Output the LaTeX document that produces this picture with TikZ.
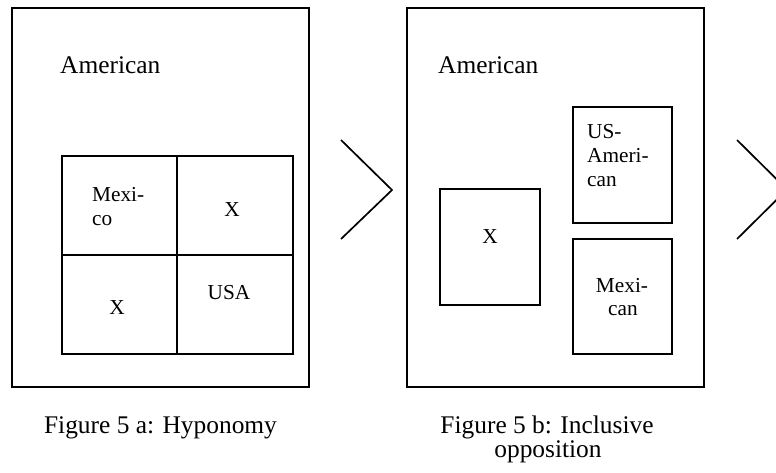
\documentclass[tikz,border=0pt]{standalone}
\usepackage{fontspec}
\setmainfont{Liberation Serif}
\begin{document}
\begin{tikzpicture}[x=1pt,y=-1pt,
  box/.style={draw, line width=2pt, inner sep=0pt},
  divider/.style={draw, line width=2pt},
  chev/.style={draw, line width=1.7pt},
  big/.style={font=\fontsize{25.4}{24}\selectfont, inner sep=0pt},
  small/.style={font=\fontsize{21.3}{24}\selectfont, inner sep=0pt}]
\useasboundingbox (0,0) rectangle (776,472);
\clip (0,0) rectangle (776,472);

% ---------- Figure 5 a ----------
\node[box, minimum width=297pt, minimum height=379pt] (outa) at (160.5,197.5) {};
\node[big, anchor=base west] (ama) at (60,73) {American};
\node[box, minimum width=231pt, minimum height=198pt] (grid) at (177.5,255) {};
\coordinate (vt) at (177,156);
\coordinate (vb) at (177,354);
\coordinate (hl) at (62,255);
\coordinate (hr) at (293,255);
\draw[divider] (vt) -- (vb);
\draw[divider] (hl) -- (hr);
\node[small, anchor=base west] (mx1) at (92,201.5) {Mexi-};
\node[small, anchor=base west] (mx2) at (92,225) {co};
\node[small] (xtr) at (232,210) {X};
\node[small] (xbl) at (117,308) {X};
\node[small, anchor=base] (usa) at (229,299) {USA};
\node[big, anchor=base] (capa) at (160.5,433) {Figure 5 a: Hyponomy};

% chevron 1
\coordinate (c1t) at (341,140);
\coordinate (c1m) at (392,190);
\coordinate (c1b) at (341,239);
\draw[chev] (c1t) -- (c1m) -- (c1b);

% ---------- Figure 5 b ----------
\node[box, minimum width=297pt, minimum height=379pt] (outb) at (555.5,197.5) {};
\node[big, anchor=base west] (amb) at (438,73) {American};
\node[box, minimum width=100pt, minimum height=116pt] (xbox) at (490,247) {};
\node[small] (xb) at (490,237) {X};
\node[box, minimum width=99pt, minimum height=116pt] (usbox) at (622.5,165) {};
\node[small, anchor=base west] (us1) at (587,138) {US-};
\node[small, anchor=base west] (us2) at (587,162) {Ameri-};
\node[small, anchor=base west] (us3) at (587,186) {can};
\node[box, minimum width=99pt, minimum height=115pt] (mxbox) at (622.5,296.5) {};
\node[small, anchor=base] (mb1) at (622,292) {Mexi-};
\node[small, anchor=base] (mb2) at (623,315) {can};
\node[big, anchor=base] (capb1) at (547,433) {Figure 5 b: Inclusive};
\node[big, anchor=base] (capb2) at (548,457) {opposition};

% chevron 2 (cut by the right edge)
\coordinate (c2t) at (737,140);
\coordinate (c2m) at (787,189.5);
\coordinate (c2b) at (737,239);
\draw[chev] (c2t) -- (c2m) -- (c2b);
\end{tikzpicture}
\end{document}
